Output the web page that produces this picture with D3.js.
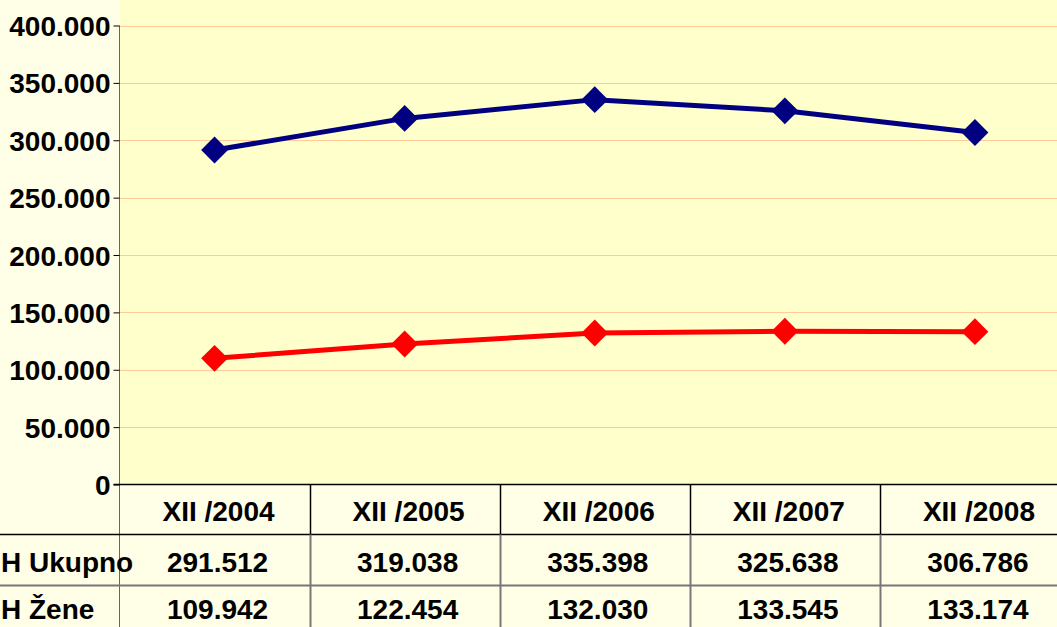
<!DOCTYPE html>
<html><head><meta charset="utf-8">
<script src="https://cdn.jsdelivr.net/npm/d3@7"></script>
<style>
html,body{margin:0;padding:0;background:#FFFFE8;}
svg{display:block;}
text{font-family:"Liberation Sans",Arial,sans-serif;font-weight:bold;fill:#000;}
</style></head>
<body>
<svg id="c" width="1057" height="627"></svg>
<script>
const categories = ["XII /2004","XII /2005","XII /2006","XII /2007","XII /2008"];
const seriesNames = ["BiH Ukupno","BiH Žene"];
const ukupno = [291512, 319038, 335398, 325638, 306786];
const zene = [109942, 122454, 132030, 133545, 133174];
const yTicks = [0,50000,100000,150000,200000,250000,300000,350000,400000];
const colors = ["#000080","#FF0000"];

(function(){
const W=1057,H=627;
const pL=119.5, pR=1070, pT=25.5, pB=484.5;
const rowH=[50,51,42];
const svg=d3.select("#c");
svg.append("rect").attr("width",W).attr("height",H).attr("fill","#FFFFE8");
svg.append("rect").attr("x",pL).attr("y",0).attr("width",W-pL).attr("height",pB).attr("fill","#FFFFCC");

const loc=d3.formatLocale({decimal:",",thousands:".",grouping:[3],currency:["",""]});
const fmt=loc.format(",d");

const x=d3.scaleBand().domain(categories).range([pL,pR]).paddingInner(0).paddingOuter(0);
const y=d3.scaleLinear().domain([0,400000]).range([pB,pT]);

svg.append("g").selectAll("line").data(yTicks.filter(d=>d>0)).join("line")
  .attr("x1",pL).attr("x2",W).attr("y1",d=>Math.round(y(d))+0.5).attr("y2",d=>Math.round(y(d))+0.5)
  .attr("stroke","#FFCC99").attr("stroke-width",1);

const ya=svg.append("g").attr("transform",`translate(${pL},0)`)
  .call(d3.axisLeft(y).tickValues(yTicks).tickFormat(d=>fmt(d)).tickSize(6).tickPadding(3));
ya.select(".domain").attr("stroke","#666").attr("d",`M0,${pT}V${H}`);
ya.selectAll(".tick line").attr("stroke","#000");
ya.selectAll(".tick text").style("font-size","28px").attr("dy","0.36em").attr("fill","#000");

const t=svg.append("g");
const y1=pB, y2=pB+rowH[0], y3=y2+rowH[1];
t.append("line").attr("x1",pL-6).attr("x2",W).attr("y1",y1).attr("y2",y1).attr("stroke","#000").attr("stroke-width",1.5);
t.append("line").attr("x1",0).attr("x2",W).attr("y1",y2).attr("y2",y2).attr("stroke","#000").attr("stroke-width",1.5);
t.append("line").attr("x1",0).attr("x2",W).attr("y1",y3).attr("y2",y3).attr("stroke","#777").attr("stroke-width",2);
const bounds=categories.map(c=>x(c)).slice(1).concat([pR]);
bounds.forEach(b=>{
  t.append("line").attr("x1",Math.round(b)+0.5).attr("x2",Math.round(b)+0.5).attr("y1",y1).attr("y2",y2).attr("stroke","#000").attr("stroke-width",1.5);
  t.append("line").attr("x1",Math.round(b)+0.5).attr("x2",Math.round(b)+0.5).attr("y1",y2).attr("y2",H).attr("stroke","#777").attr("stroke-width",2);
});
t.selectAll("text.cat").data(categories).join("text").attr("class","cat")
  .attr("x",d=>x(d)+x.bandwidth()/2+4).attr("y",521).attr("text-anchor","middle").style("font-size","28px").text(d=>d);
[ukupno,zene].forEach((arr,i)=>{
  t.selectAll("text.v"+i).data(arr).join("text").attr("class","v"+i)
    .attr("x",(d,j)=>x(categories[j])+x.bandwidth()/2+3).attr("y",i===0?572:619).attr("text-anchor","middle")
    .style("font-size","28px").text(d=>fmt(d));
});
seriesNames.forEach((n,i)=>{
  const tx=t.append("text").attr("y",i===0?572:619).style("font-size","28px").text(n);
  const pre=t.append("text").style("font-size","28px").text("Bi");
  const w=pre.node().getComputedTextLength(); pre.remove();
  tx.attr("x",1-w);
});

const line=d3.line().x((d,i)=>x(categories[i])+x.bandwidth()/2).y(d=>y(d));
[ukupno,zene].forEach((arr,i)=>{
  svg.append("path").datum(arr).attr("d",line).attr("fill","none").attr("stroke",colors[i]).attr("stroke-width",5).attr("stroke-linejoin","round");
  svg.append("g").selectAll("path").data(arr).join("path")
    .attr("d",d3.symbol(d3.symbolSquare,360)())
    .attr("transform",(d,j)=>`translate(${x(categories[j])+x.bandwidth()/2},${y(d)}) rotate(45)`)
    .attr("fill",colors[i]);
});
})();
</script>
</body></html>
